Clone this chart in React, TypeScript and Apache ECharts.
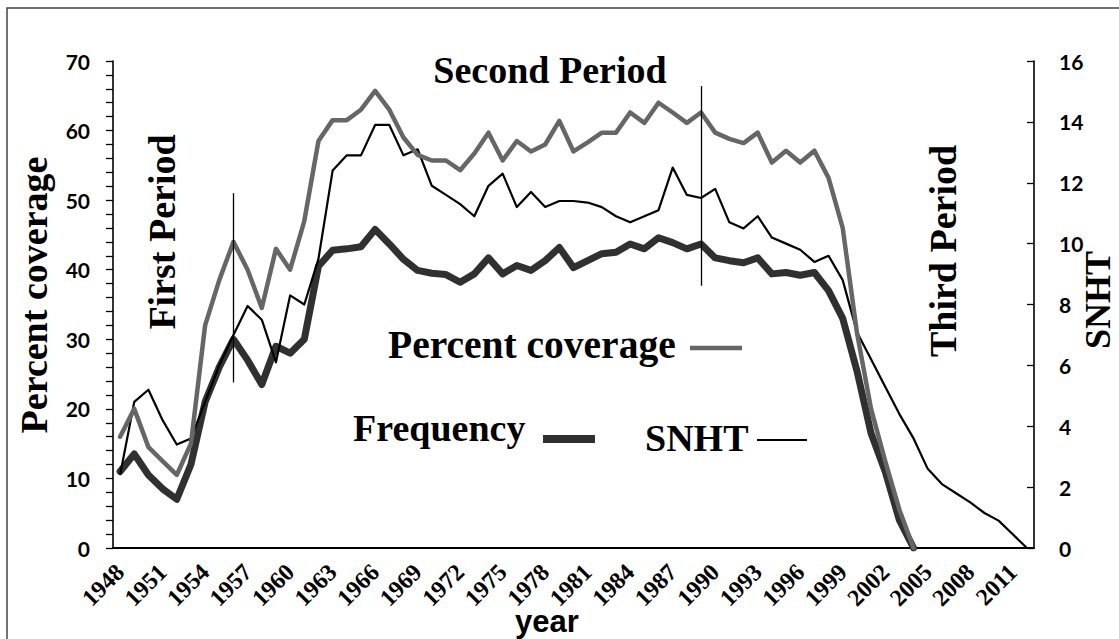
import React, { useEffect, useRef } from "react";
import * as echarts from "echarts";

const years = [
  "1948", "1949", "1950", "1951", "1952", "1953", "1954", "1955", "1956", "1957",
  "1958", "1959", "1960", "1961", "1962", "1963", "1964", "1965", "1966", "1967",
  "1968", "1969", "1970", "1971", "1972", "1973", "1974", "1975", "1976", "1977",
  "1978", "1979", "1980", "1981", "1982", "1983", "1984", "1985", "1986", "1987",
  "1988", "1989", "1990", "1991", "1992", "1993", "1994", "1995", "1996", "1997",
  "1998", "1999", "2000", "2001", "2002", "2003", "2004", "2005", "2006", "2007",
  "2008", "2009", "2010", "2011", "2012",
];

// Percent coverage (left axis)
const percentCoverage = [
  16, 20, 14.5, 12.5, 10.5, 15, 32, 38.5, 44, 40,
  34.5, 43, 40, 47, 58.5, 61.5, 61.5, 63, 65.7, 63,
  59, 56.5, 55.7, 55.7, 54.3, 56.7, 59.7, 55.7, 58.5, 57,
  58, 61.4, 57, 58.3, 59.7, 59.7, 62.6, 61.1, 64, 62.6,
  61.1, 62.6, 59.7, 58.8, 58.2, 59.7, 55.4, 57.1, 55.4, 57.1,
  53.2, 46, 31, 20, 12.5, 5.5, 0, null, null, null,
  null, null, null, null, null,
];

// Frequency (left axis)
const frequency = [
  11, 13.5, 10.5, 8.5, 7, 12, 21, 26, 30, 27,
  23.5, 29, 28, 30, 40.5, 42.8, 43, 43.3, 45.8, 43.7,
  41.5, 39.9, 39.5, 39.3, 38.2, 39.4, 41.7, 39.4, 40.6, 39.9,
  41.3, 43.2, 40.3, 41.3, 42.3, 42.5, 43.7, 43, 44.6, 43.9,
  43, 43.7, 41.7, 41.3, 41, 41.7, 39.4, 39.6, 39.2, 39.6,
  37, 33, 25.5, 16.5, 11, 4, 0, null, null, null,
  null, null, null, null, null,
];

// SNHT (right axis)
const snht = [
  2.4, 4.8, 5.2, 4.2, 3.4, 3.6, 4.8, 6.0, 7.0, 7.95,
  7.5, 6.1, 8.3, 8.0, 9.5, 12.4, 12.9, 12.9, 13.9, 13.9,
  12.9, 13.1, 11.9, 11.6, 11.3, 10.9, 11.9, 12.3, 11.2, 11.7,
  11.2, 11.4, 11.4, 11.35, 11.2, 10.9, 10.7, 10.9, 11.1, 12.5,
  11.6, 11.5, 11.8, 10.7, 10.5, 10.9, 10.2, 10.0, 9.8, 9.4,
  9.6, 8.8, 7.1, 6.2, 5.3, 4.4, 3.6, 2.6, 2.1, 1.8,
  1.5, 1.15, 0.9, 0.45, 0,
];

// Period separator lines (year, from value, to value on the left axis)
const periodLines = [
  { year: "1956", from: 51, to: 23.8 },
  { year: "1989", from: 66.4, to: 37.7 },
];

const SERIF = "'Liberation Serif', 'Times New Roman', serif";
const SANS = "'Liberation Sans', Arial, sans-serif";
const LABEL = "Lato, 'Liberation Sans', sans-serif";

const GRAY = "#666666";
const DARK = "#303030";

export default function App() {
  const ref = useRef<HTMLDivElement>(null);

  useEffect(() => {
    const chart = echarts.init(ref.current as HTMLDivElement, null, { renderer: "svg" });

    const bigFont = `bold 38px ${SERIF}`;

    chart.setOption({
      animation: false,
      backgroundColor: "#ffffff",
      textStyle: { fontFamily: SERIF },
      grid: { left: 113, right: 85, top: 61, bottom: 91, containLabel: false },
      xAxis: {
        type: "category",
        data: years,
        boundaryGap: true,
        axisLine: { show: true, lineStyle: { color: "#000", width: 2 } },
        axisTick: { show: false },
        splitLine: { show: false },
        axisLabel: {
          interval: 2,
          rotate: 45,
          margin: 20,
          color: "#000",
          fontFamily: SERIF,
          fontWeight: "bold",
          fontSize: 24,
        },
      },
      yAxis: [
        {
          type: "value",
          position: "left",
          min: 0,
          max: 70,
          interval: 10,
          axisLine: { show: true, lineStyle: { color: "#000", width: 1.6 } },
          axisTick: { show: true, inside: false, length: 7, lineStyle: { color: "#000", width: 1.3 } },
          minorTick: { show: true, splitNumber: 5, length: 7, lineStyle: { color: "#000", width: 1.3 } },
          splitLine: { show: false },
          axisLabel: {
            margin: 23,
            color: "#000",
            fontFamily: LABEL,
            fontWeight: "bold",
            fontSize: 21,
          },
        },
        {
          type: "value",
          position: "right",
          min: 0,
          max: 16,
          interval: 2,
          axisLine: { show: true, lineStyle: { color: "#000", width: 1.6 } },
          axisTick: { show: true, inside: true, length: 7, lineStyle: { color: "#000", width: 1.3 } },
          splitLine: { show: false },
          axisLabel: {
            margin: 25,
            color: "#000",
            fontFamily: LABEL,
            fontWeight: "bold",
            fontSize: 21,
          },
        },
      ],
      series: [
        {
          name: "Frequency",
          type: "line",
          yAxisIndex: 0,
          data: frequency,
          symbol: "none",
          connectNulls: false,
          lineStyle: { color: DARK, width: 7, cap: "round", join: "round" },
          itemStyle: { color: DARK },
          z: 2,
        },
        {
          name: "SNHT",
          type: "line",
          yAxisIndex: 1,
          data: snht,
          symbol: "none",
          lineStyle: { color: "#000", width: 2.2, join: "round" },
          itemStyle: { color: "#000" },
          z: 3,
        },
        {
          name: "Percent coverage",
          type: "line",
          yAxisIndex: 0,
          data: percentCoverage,
          symbol: "none",
          lineStyle: { color: GRAY, width: 4.5, cap: "round", join: "round" },
          itemStyle: { color: GRAY },
          z: 4,
          markLine: {
            silent: true,
            symbol: ["none", "none"],
            label: { show: false },
            lineStyle: { color: "#000", width: 1.3, type: "solid" },
            emphasis: { disabled: true },
            data: periodLines.map((p) => [
              { coord: [p.year, p.from] },
              { coord: [p.year, p.to] },
            ]),
          },
        },
      ],
      graphic: {
        elements: [
          {
            type: "rect",
            silent: true,
            z: -10,
            shape: { x: 7, y: 8, width: 1400, height: 900 },
            style: { fill: "transparent", stroke: "#444", lineWidth: 1.5 },
          },
          {
            type: "text",
            x: 550,
            y: 70,
            style: { text: "Second Period", font: bigFont, fill: "#000", align: "center", verticalAlign: "middle" },
          },
          {
            type: "text",
            x: 162,
            y: 232,
            rotation: Math.PI / 2,
            style: { text: "First Period", font: bigFont, fill: "#000", align: "center", verticalAlign: "middle" },
          },
          {
            type: "text",
            x: 943,
            y: 251,
            rotation: Math.PI / 2,
            style: { text: "Third Period", font: bigFont, fill: "#000", align: "center", verticalAlign: "middle" },
          },
          {
            type: "text",
            x: 34,
            y: 295,
            rotation: Math.PI / 2,
            style: { text: "Percent coverage", font: bigFont, fill: "#000", align: "center", verticalAlign: "middle" },
          },
          {
            type: "text",
            x: 1098,
            y: 300,
            rotation: Math.PI / 2,
            style: { text: "SNHT", font: `bold 36px ${SERIF}`, fill: "#000", align: "center", verticalAlign: "middle" },
          },
          {
            type: "text",
            x: 547,
            y: 621,
            style: { text: "year", font: `bold 31px ${SANS}`, fill: "#000", align: "center", verticalAlign: "middle" },
          },
          {
            type: "text",
            x: 388,
            y: 345,
            style: { text: "Percent coverage", font: `bold 39.5px ${SERIF}`, fill: "#000", align: "left", verticalAlign: "middle" },
          },
          {
            type: "line",
            shape: { x1: 690, y1: 348, x2: 742, y2: 348 },
            style: { stroke: GRAY, lineWidth: 4.5 },
          },
          {
            type: "text",
            x: 353,
            y: 428,
            style: { text: "Frequency", font: bigFont, fill: "#000", align: "left", verticalAlign: "middle" },
          },
          {
            type: "line",
            shape: { x1: 543, y1: 439, x2: 595, y2: 439 },
            style: { stroke: DARK, lineWidth: 8 },
          },
          {
            type: "text",
            x: 645,
            y: 438,
            style: { text: "SNHT", font: bigFont, fill: "#000", align: "left", verticalAlign: "middle" },
          },
          {
            type: "line",
            shape: { x1: 757, y1: 440, x2: 807, y2: 440 },
            style: { stroke: "#000", lineWidth: 2 },
          },
        ],
      },
    });

    return () => {
      chart.dispose();
    };
  }, []);

  return (
    <div
      ref={ref}
      style={{ position: "fixed", left: 0, top: 0, width: 1119, height: 639, background: "#fff" }}
    />
  );
}
